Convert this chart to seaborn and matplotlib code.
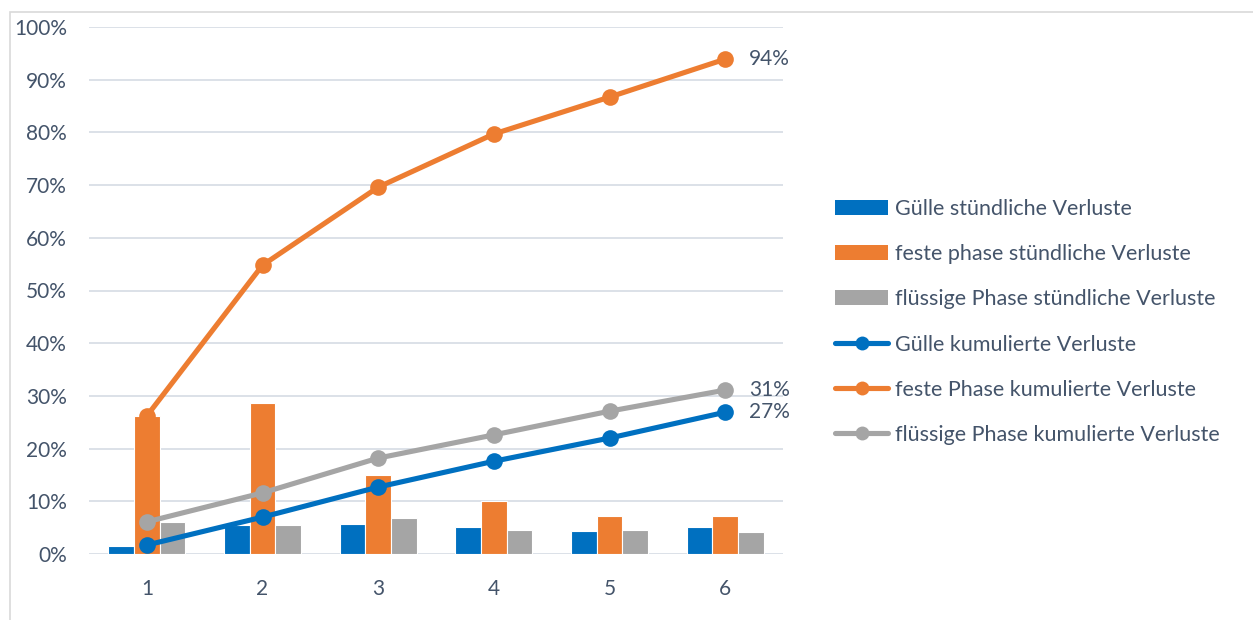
import numpy as np
import pandas as pd
import matplotlib
matplotlib.use("Agg")
import matplotlib.pyplot as plt
import seaborn as sns
from matplotlib.patches import Patch, Rectangle
from matplotlib.lines import Line2D
from matplotlib.ticker import PercentFormatter

categories = ["1", "2", "3", "4", "5", "6"]

guelle_hourly = [1.6, 5.5, 5.7, 5.2, 4.3, 5.1]
feste_hourly = [26.2, 28.7, 14.9, 10.0, 7.3, 7.3]
fluessig_hourly = [6.1, 5.5, 6.9, 4.5, 4.6, 4.1]

guelle_cum = [1.7, 7.0, 12.7, 17.6, 22.0, 26.9]
feste_cum = [26.2, 54.8, 69.6, 79.7, 86.7, 93.9]
fluessig_cum = [6.1, 11.6, 18.2, 22.6, 27.1, 31.1]

end_labels = ["94%", "31%", "27%"]

bar_names = ["Gülle stündliche Verluste", "feste phase stündliche Verluste",
             "flüssige Phase stündliche Verluste"]
line_names = ["Gülle kumulierte Verluste", "feste Phase kumulierte Verluste",
              "flüssige Phase kumulierte Verluste"]

BLUE, ORANGE, GRAY = "#0070C0", "#ED7D31", "#A5A5A5"
TXT = "#44546A"
FS = 15

sns.set_theme(style="white")
plt.rcParams["font.family"] = ["Lato", "DejaVu Sans"]

fig = plt.figure(figsize=(12.53, 6.20), dpi=100)
ax = fig.add_axes([89 / 1253, 1 - 554 / 620, (783 - 89) / 1253, (554 - 27) / 620])

# chart border
fig.patches.append(Rectangle((10 / 1253, -0.1), 1.2, 1 - 12 / 620 + 0.1,
                             transform=fig.transFigure, fill=False,
                             edgecolor="#D9D9D9", linewidth=1.2, zorder=0))

df = pd.DataFrame({
    "cat": categories * 3,
    "val": guelle_hourly + feste_hourly + fluessig_hourly,
    "series": sum([[n] * len(categories) for n in bar_names], []),
})
sns.barplot(data=df, x="cat", y="val", hue="series", order=categories,
            hue_order=bar_names, palette=[BLUE, ORANGE, GRAY], saturation=1,
            width=0.667, gap=0.0, ax=ax, legend=False, zorder=2,
            edgecolor="white", linewidth=0.8)

xs = np.arange(len(categories))
ldf = pd.DataFrame({
    "x": np.concatenate([xs] * 3),
    "val": guelle_cum + feste_cum + fluessig_cum,
    "series": sum([[n] * len(categories) for n in line_names], []),
})
for name, col in zip(line_names, [BLUE, ORANGE, GRAY]):
    sub = ldf[ldf["series"] == name]
    sns.lineplot(data=sub, x="x", y="val", color=col, linewidth=3.7,
                 marker="o", markersize=12, markeredgewidth=0, ax=ax,
                 zorder=3, legend=False)

for lab, series in zip(end_labels, [feste_cum, fluessig_cum, guelle_cum]):
    ax.annotate(lab, (xs[-1], series[-1]), xytext=(17, 0), textcoords="offset points",
                va="center", ha="left", fontsize=FS, color=TXT)

ax.set_xlim(-0.5, len(categories) - 0.5)
ax.set_ylim(0, 100)
ax.set_yticks(np.arange(0, 101, 10))
ax.yaxis.set_major_formatter(PercentFormatter(decimals=0))
ax.grid(axis="y", color="#D9DEE6", linewidth=1.3, zorder=0)
ax.set_axisbelow(True)
for s in ax.spines.values():
    s.set_visible(False)
ax.tick_params(axis="y", length=0, pad=16, labelsize=FS, labelcolor=TXT)
ax.tick_params(axis="x", length=0, pad=18, labelsize=FS, labelcolor=TXT)
ax.set_xlabel("")
ax.set_ylabel("")

handles = [Patch(facecolor=c, edgecolor="none") for c in [BLUE, ORANGE, GRAY]]
handles += [Line2D([0], [0], color=c, linewidth=3.7, marker="o", markersize=10,
                   markeredgewidth=0) for c in [BLUE, ORANGE, GRAY]]
fig.legend(handles, bar_names + line_names, loc="center left",
           bbox_to_anchor=(816 / 1253, 1 - 322 / 620), frameon=False,
           fontsize=15.5, labelcolor=TXT, handlelength=2.45, handletextpad=0.33,
           labelspacing=1.17)

fig.savefig("out.png", dpi=100)
